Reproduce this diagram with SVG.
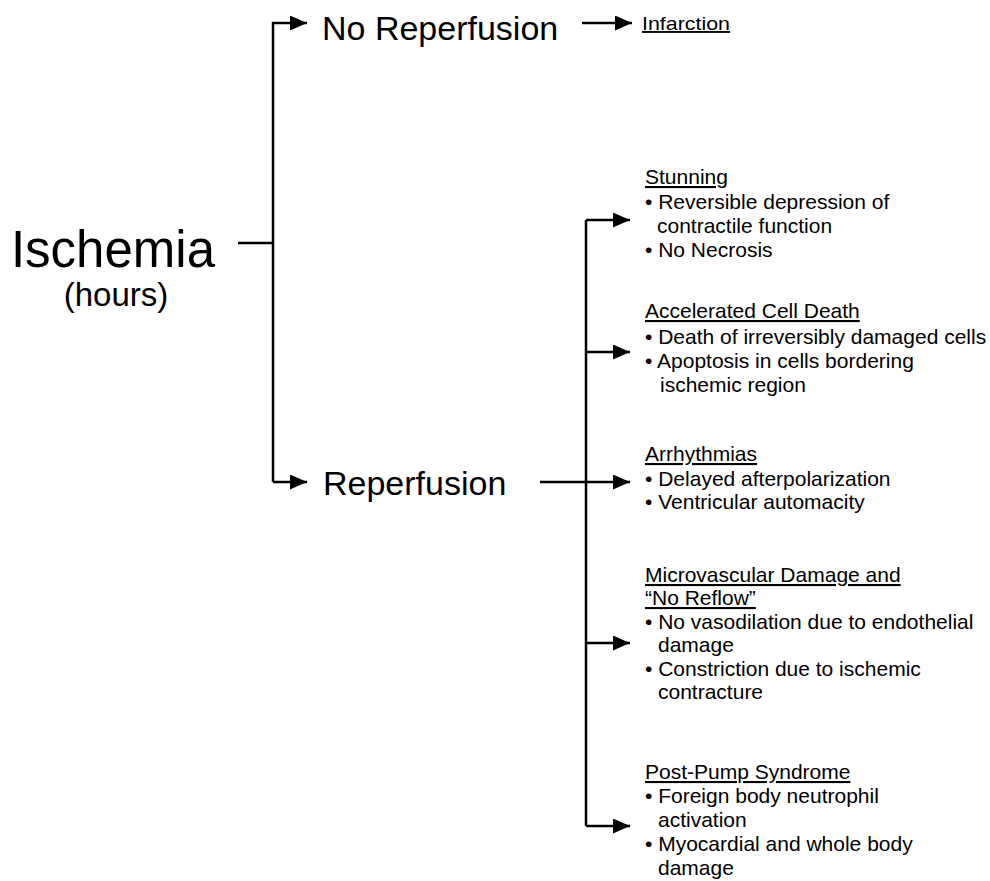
<svg xmlns="http://www.w3.org/2000/svg" width="990" height="881" viewBox="0 0 990 881">
<defs>
<marker id="ah" markerUnits="userSpaceOnUse" markerWidth="18" markerHeight="16" refX="17" refY="7.5" orient="auto">
<path d="M0,0 L17,7.5 L0,15 Z" fill="#000"/>
</marker>
<style>
text{font-family:"Liberation Sans",Arial,sans-serif;fill:#000}
.big{font-size:51px}
.mid{font-size:34px}
.sm{font-size:21px}
.hd{text-decoration:underline}
.ln{stroke:#000;stroke-width:2.5;fill:none}
.ar{marker-end:url(#ah)}
</style>
</defs>
<rect width="990" height="881" fill="#fff"/>
<g id="connectors">
<path class="ln" d="M238,243 H273"/>
<path class="ln ar" d="M273,482 V23 H307"/>
<path class="ln ar" d="M273,482 H307"/>
<path class="ln ar" d="M582,23 H632"/>
<path class="ln ar" d="M540,482 H630"/>
<path class="ln" d="M586,220 V826"/>
<path class="ln ar" d="M586,220 H630"/>
<path class="ln ar" d="M586,352 H630"/>
<path class="ln ar" d="M586,643 H630"/>
<path class="ln ar" d="M586,826 H630"/>
</g>
<g id="ischemia">
<text class="big" x="113" y="267" text-anchor="middle">Ischemia</text>
<text x="116" y="306" text-anchor="middle" style="font-size:33px">(hours)</text>
</g>
<g id="no-reperfusion">
<text class="mid" x="322" y="40">No Reperfusion</text>
</g>
<g id="infarction">
<text class="hd" x="642" y="30" style="font-size:19px" textLength="88" lengthAdjust="spacingAndGlyphs">Infarction</text>
</g>
<g id="reperfusion">
<text class="mid" x="323" y="495">Reperfusion</text>
</g>
<g id="stunning">
<text class="sm hd" x="645" y="184">Stunning</text>
<text class="sm" x="645" y="209">• Reversible depression of</text>
<text class="sm" x="657" y="233">contractile function</text>
<text class="sm" x="645" y="257">• No Necrosis</text>
</g>
<g id="accelerated-cell-death">
<text class="sm hd" x="645" y="318">Accelerated Cell Death</text>
<text class="sm" x="645" y="344">• Death of irreversibly damaged cells</text>
<text class="sm" x="645" y="368">• Apoptosis in cells bordering</text>
<text class="sm" x="660" y="392">ischemic region</text>
</g>
<g id="arrhythmias">
<text class="sm hd" x="645" y="461">Arrhythmias</text>
<text class="sm" x="645" y="486">• Delayed afterpolarization</text>
<text class="sm" x="645" y="509">• Ventricular automacity</text>
</g>
<g id="microvascular">
<text class="sm hd" x="645" y="582">Microvascular Damage and</text>
<text class="sm hd" x="645" y="605">“No Reflow”</text>
<text class="sm" x="645" y="629">• No vasodilation due to endothelial</text>
<text class="sm" x="658" y="652">damage</text>
<text class="sm" x="645" y="676">• Constriction due to ischemic</text>
<text class="sm" x="658" y="699">contracture</text>
</g>
<g id="post-pump">
<text class="sm hd" x="645" y="779">Post-Pump Syndrome</text>
<text class="sm" x="645" y="803">• Foreign body neutrophil</text>
<text class="sm" x="658" y="827">activation</text>
<text class="sm" x="645" y="851">• Myocardial and whole body</text>
<text class="sm" x="658" y="875">damage</text>
</g>
</svg>
